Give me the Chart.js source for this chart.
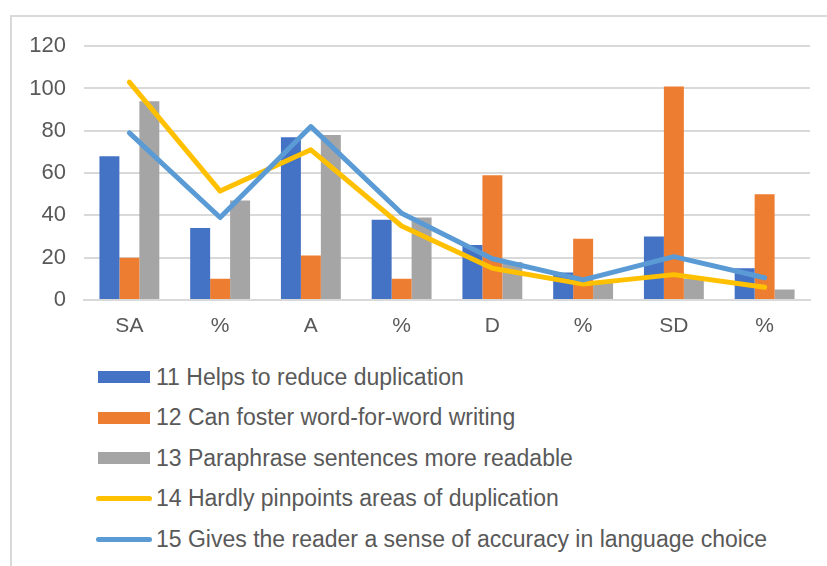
<!DOCTYPE html>
<html>
<head>
<meta charset="utf-8">
<script src="https://cdn.jsdelivr.net/npm/chart.js@4.4.1/dist/chart.umd.min.js"></script>
<style>
    body { margin: 0; background: #fff; font-family: "Liberation Sans", Arial, sans-serif; }
    #frame { position: absolute; left: 10px; top: 15px; width: 830px; height: 560px; border: 2px solid #d9d9d9; box-sizing: border-box; }
    #chartBox { position: absolute; left: 10px; top: 15px; width: 817px; height: 335px; }
    #legend { position: absolute; left: 96px; top: 357px; color: #595959; font-size: 23px; }
    .item { height: 40.5px; display: flex; align-items: center; white-space: nowrap; }
    .swatch { width: 56px; margin-right: 4px; display: flex; justify-content: center; }
</style>
</head>
<body>
<div id="frame"></div>
<div id="chartBox"><canvas id="chart"></canvas></div>
<div id="legend"></div>
<script>
    // Categories and series
    const categories = ['SA', '%', 'A', '%', 'D', '%', 'SD', '%'];
    const seriesNames = [
        '11 Helps to reduce duplication',
        '12 Can foster word-for-word writing',
        '13 Paraphrase sentences more readable',
        '14 Hardly pinpoints areas of duplication',
        '15 Gives the reader a sense of accuracy in language choice'
    ];
    const reduceDup = [68, 34, 77, 38, 26, 13, 30, 15];
    const fosterWord = [20, 10, 21, 10, 59, 29, 101, 50];
    const paraphrase = [94, 47, 78, 39, 18, 8, 10, 5];
    const pinpoints = [103, 51.5, 71, 35, 15, 7.5, 12, 6];
    const accuracy = [79, 39, 82, 41, 19.5, 9.5, 20.5, 10.5];
    const yTicks = [0, 20, 40, 60, 80, 100, 120];

    const colors = ['#4472C4', '#ED7D31', '#A5A5A5', '#FFC000', '#5B9BD5'];

    function barSet(i, data) {
        return {
            type: 'bar', label: seriesNames[i], data: data,
            backgroundColor: colors[i], order: 2,
            barPercentage: 1, categoryPercentage: 0.66
        };
    }
    function lineSet(i, data, order) {
        return {
            type: 'line', label: seriesNames[i], data: data,
            borderColor: colors[i], backgroundColor: colors[i], borderWidth: 5,
            pointRadius: 0, tension: 0, order: order,
            borderCapStyle: 'round', borderJoinStyle: 'round'
        };
    }

    new Chart(document.getElementById('chart'), {
        data: {
            labels: categories,
            datasets: [
                barSet(0, reduceDup),
                barSet(1, fosterWord),
                barSet(2, paraphrase),
                lineSet(3, pinpoints, 1),
                lineSet(4, accuracy, 0)
            ]
        },
        options: {
            responsive: true,
            maintainAspectRatio: false,
            animation: false,
            layout: { padding: { top: 19, right: 17, left: 0, bottom: 0 } },
            plugins: { legend: { display: false }, tooltip: { enabled: false } },
            scales: {
                x: {
                    grid: { display: false, drawTicks: false },
                    border: { color: '#d9d9d9', width: 2 },
                    ticks: { color: '#595959', font: { size: 21, family: 'Liberation Sans' }, padding: 14 },
                    afterFit: s => { s.height = 50; }
                },
                y: {
                    min: 0, max: 120,
                    afterBuildTicks: s => { s.ticks = yTicks.map(v => ({ value: v })); },
                    grid: { color: '#d9d9d9', lineWidth: 2, drawTicks: false },
                    border: { display: false },
                    ticks: { color: '#595959', font: { size: 22, family: 'Liberation Sans' }, padding: 18 },
                    afterFit: s => { s.width = 74; }
                }
            }
        }
    });

    // Legend, one entry per row as in the picture
    seriesNames.forEach((name, i) => {
        const mark = i >= 3
            ? `<span style="width:56px;height:5px;border-radius:3px;background:${colors[i]}"></span>`
            : `<span style="width:52px;height:12px;background:${colors[i]}"></span>`;
        document.getElementById('legend').insertAdjacentHTML('beforeend',
            `<div class="item"><span class="swatch">${mark}</span><span>${name}</span></div>`);
    });
</script>
</body>
</html>
